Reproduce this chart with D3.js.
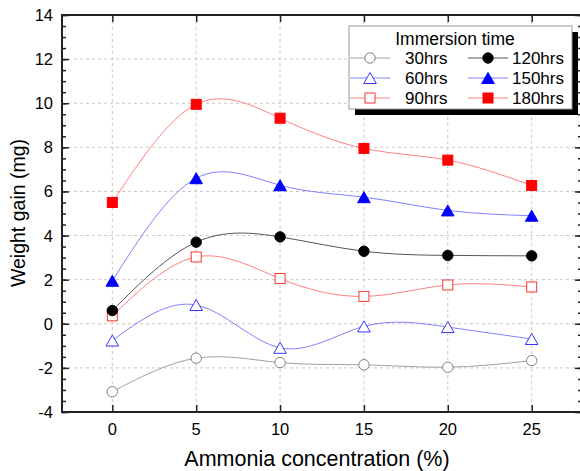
<!DOCTYPE html>
<html>
<head>
<meta charset="utf-8">
<script src="https://cdn.jsdelivr.net/npm/d3@7"></script>
<style>
  body { margin: 0; background: #fff; }
  text { font-family: "Liberation Sans", Arial, sans-serif; }
</style>
</head>
<body>
<div id="chart"></div>
<script>
// concentrations (%) and weight gain (mg) per immersion time
const concentrations = [0, 5, 10, 15, 20, 25];
const w30  = [-3.08, -1.56, -1.76, -1.86, -1.97, -1.67];
const w60  = [-0.76, 0.85, -1.09, -0.12, -0.15, -0.69];
const w90  = [0.36, 3.03, 2.05, 1.24, 1.76, 1.67];
const w120 = [0.6, 3.7, 3.94, 3.29, 3.1, 3.08];
const w150 = [1.95, 6.6, 6.28, 5.74, 5.14, 4.9];
const w180 = [5.5, 9.95, 9.32, 7.95, 7.42, 6.27];
const xTicks = [0, 5, 10, 15, 20, 25];
const yTicks = [-4, -2, 0, 2, 4, 6, 8, 10, 12, 14];

const series = [
  {name: "30hrs",  values: w30,  shape: "circle",   filled: false, stroke: "#808080", line: "#a0a0a0"},
  {name: "60hrs",  values: w60,  shape: "triangle", filled: false, stroke: "#3333ff", line: "#8080ff"},
  {name: "90hrs",  values: w90,  shape: "square",   filled: false, stroke: "#ff3333", line: "#ff8080"},
  {name: "120hrs", values: w120, shape: "circle",   filled: true,  stroke: "#000000", line: "#555555"},
  {name: "150hrs", values: w150, shape: "triangle", filled: true,  stroke: "#0000ff", line: "#8080ff"},
  {name: "180hrs", values: w180, shape: "square",   filled: true,  stroke: "#ff0000", line: "#ff8080"}
];

const width = 580, height = 471;
const m = {left: 62, right: 582, top: 15, bottom: 412};

const svg = d3.select("#chart").append("svg")
    .attr("width", width)
    .attr("height", height);

const x = d3.scaleLinear().domain([-3, 28]).range([m.left, m.right]);
const y = d3.scaleLinear().domain([-4, 14]).range([m.bottom, m.top]);

// grid
const grid = svg.append("g")
    .attr("stroke", "#c8c8c8")
    .attr("stroke-dasharray", "3,3")
    .attr("stroke-width", 1);
xTicks.forEach(v => {
  grid.append("line")
      .attr("x1", x(v)).attr("x2", x(v))
      .attr("y1", m.top).attr("y2", m.bottom);
});
yTicks.filter(v => v > -4 && v < 14).forEach(v => {
  grid.append("line")
      .attr("x1", m.left).attr("x2", m.right)
      .attr("y1", y(v)).attr("y2", y(v));
});

// axes
const minorY = d3.range(-4, 14.01, 0.5);
svg.append("g")
    .attr("transform", "translate(" + m.left + ",0)")
    .call(d3.axisRight(y).tickValues(minorY).tickSize(4).tickFormat(""))
    .call(g => g.select(".domain").remove());
svg.append("g")
    .attr("transform", "translate(" + m.left + ",0)")
    .call(d3.axisRight(y).tickValues(yTicks).tickSize(7).tickFormat(""))
    .call(g => g.select(".domain").remove());
svg.append("g")
    .attr("transform", "translate(" + m.right + ",0)")
    .call(d3.axisLeft(y).tickValues(minorY).tickSize(4).tickFormat(""))
    .call(g => g.select(".domain").remove());
svg.append("g")
    .attr("transform", "translate(" + m.right + ",0)")
    .call(d3.axisLeft(y).tickValues(yTicks).tickSize(7).tickFormat(""))
    .call(g => g.select(".domain").remove());
svg.append("g")
    .attr("transform", "translate(0," + m.bottom + ")")
    .call(d3.axisTop(x).tickValues(xTicks).tickSize(7).tickFormat(""))
    .call(g => g.select(".domain").remove());
svg.append("g")
    .attr("transform", "translate(0," + m.top + ")")
    .call(d3.axisBottom(x).tickValues(xTicks).tickSize(7).tickFormat(""))
    .call(g => g.select(".domain").remove());
svg.selectAll(".tick line").attr("stroke", "#222").attr("stroke-width", 1.5);

// frame
svg.append("rect")
    .attr("x", m.left).attr("y", m.top)
    .attr("width", m.right - m.left).attr("height", m.bottom - m.top)
    .attr("fill", "none")
    .attr("stroke", "#222")
    .attr("stroke-width", 2);

// tick labels
svg.append("g").selectAll("text")
  .data(yTicks)
  .join("text")
    .attr("x", m.left - 9)
    .attr("y", d => y(d) + 6)
    .attr("text-anchor", "end")
    .attr("font-size", 16.5)
    .text(d => d);
svg.append("g").selectAll("text")
  .data(xTicks)
  .join("text")
    .attr("x", d => x(d))
    .attr("y", 435)
    .attr("text-anchor", "middle")
    .attr("font-size", 16.5)
    .text(d => d);

// axis titles
svg.append("text")
    .attr("transform", "translate(25,213) rotate(-90)")
    .attr("text-anchor", "middle")
    .attr("font-size", 19.5)
    .text("Weight gain (mg)");
svg.append("text")
    .attr("x", 317)
    .attr("y", 466)
    .attr("text-anchor", "middle")
    .attr("font-size", 21.5)
    .text("Ammonia concentration (%)");

function marker(g, s, cx, cy) {
  const fill = s.filled ? s.stroke : "#fff";
  if (s.shape === "circle") {
    g.append("circle").attr("cx", cx).attr("cy", cy).attr("r", 5.2)
        .attr("fill", fill).attr("stroke", s.stroke).attr("stroke-width", 1);
  } else if (s.shape === "square") {
    g.append("rect").attr("x", cx - 5).attr("y", cy - 5).attr("width", 10).attr("height", 10)
        .attr("fill", fill).attr("stroke", s.stroke).attr("stroke-width", 1);
  } else {
    const h = 5.5;
    g.append("path")
        .attr("d", "M" + cx + "," + (cy - h) + "L" + (cx + 6.3) + "," + (cy + h) + "L" + (cx - 6.3) + "," + (cy + h) + "Z")
        .attr("fill", fill).attr("stroke", s.stroke).attr("stroke-width", 1);
  }
}

const line = d3.line()
    .x(d => x(d[0]))
    .y(d => y(d[1]))
    .curve(d3.curveNatural);

const plot = svg.append("g");
series.forEach(s => {
  const pts = concentrations.map((c, i) => [c, s.values[i]]);
  plot.append("path")
      .datum(pts)
      .attr("fill", "none")
      .attr("stroke", s.line)
      .attr("stroke-width", 1)
      .attr("d", line);
});
series.forEach(s => {
  concentrations.forEach((c, i) => marker(plot, s, x(c), y(s.values[i])));
});

// legend
const lg = svg.append("g").attr("transform", "translate(349,26)");
const lw = 223, lh = 83;
lg.append("rect").attr("x", 6).attr("y", 6).attr("width", lw).attr("height", lh).attr("fill", "#000");
lg.append("rect").attr("x", 0).attr("y", 0).attr("width", lw).attr("height", lh)
    .attr("fill", "#fff").attr("stroke", "#999").attr("stroke-width", 1);
lg.append("text")
    .attr("x", 106).attr("y", 19)
    .attr("text-anchor", "middle")
    .attr("font-size", 17.5)
    .text("Immersion time");
series.forEach((s, i) => {
  const col = i < 3 ? 0 : 1;
  const row = i % 3;
  const ox = col === 0 ? 1 : 119;
  const tx = col === 0 ? 56 : 163;
  const cy = 32 + row * 20;
  lg.append("line")
      .attr("x1", ox).attr("x2", ox + 40)
      .attr("y1", cy).attr("y2", cy)
      .attr("stroke", s.line).attr("stroke-width", 1);
  marker(lg, s, ox + 20, cy);
  lg.append("text")
      .attr("x", tx).attr("y", cy + 6)
      .attr("font-size", 17)
      .text(s.name);
});
</script>
</body>
</html>
